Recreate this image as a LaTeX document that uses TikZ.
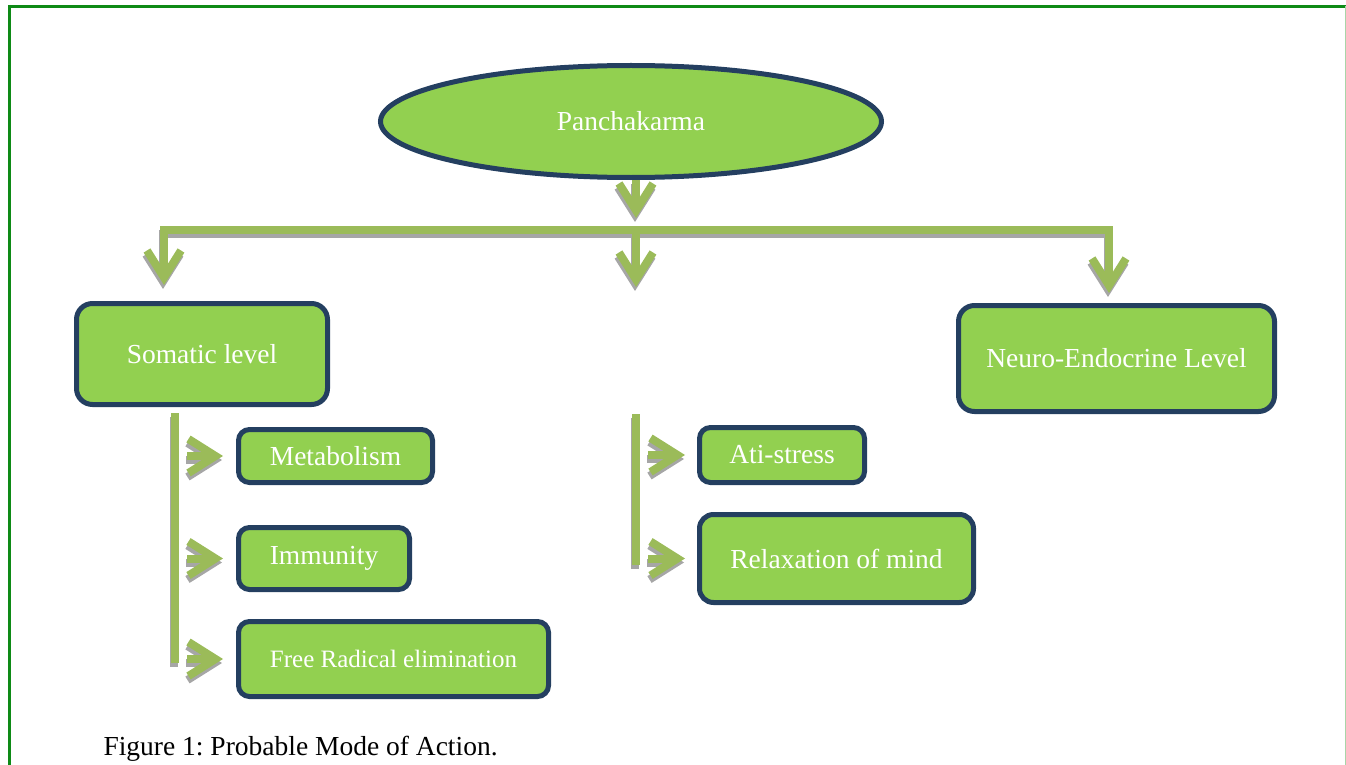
\documentclass[tikz,border=0pt]{standalone}
\usepackage{fontspec}
\setmainfont{Liberation Serif}
\usetikzlibrary{arrows.meta,shapes.geometric,positioning}

\definecolor{boxgreen}{HTML}{92D050}
\definecolor{boxline}{HTML}{243F60}
\definecolor{flowgreen}{HTML}{9BBB59}
\definecolor{flowshade}{HTML}{A6A6A6}
\definecolor{framegreen}{HTML}{0E8A16}
\definecolor{framelight}{HTML}{A8D5A8}

\tikzset{
  level/.style={
    draw=boxline,
    fill=boxgreen,
    line width=5pt,
    rounded corners=16pt,
    text=white,
    inner sep=0pt,
    font=\fontsize{27.5}{30}\selectfont,
  },
  item/.style={level, rounded corners=11pt},
  chevron/.tip={Straight Barb[length=27pt,width=34pt]},
  flow/.style={draw=flowgreen, line width=8pt},
  flowshadow/.style={draw=flowshade, line width=8pt, transform canvas={xshift=-1pt,yshift=-4pt}},
}

% connector with its grey shadow
\newcommand{\flowline}[2][]{%
  \draw[flowshadow,#1] #2;
  \draw[flow,#1] #2;
}

\begin{document}
\frenchspacing
\begin{tikzpicture}[x=1pt,y=-1pt]

    \useasboundingbox (0,0) rectangle (1346,765);

    % frame
    \draw[framegreen, line width=3pt] (8,6.5) -- (1346,6.5);
    \draw[framegreen, line width=3pt] (9.5,5) -- (9.5,765);
    \draw[framelight, line width=1pt] (1345.5,6) -- (1345.5,765);

    % boxes
    \node[level, ellipse, rounded corners=0pt, minimum width=501pt, minimum height=112pt] (panch) at (631,121.5) {Panchakarma};
    \node[level, minimum width=251pt, minimum height=101pt] (somatic) at (202,354) {Somatic level};
    \node[level, minimum width=316pt, minimum height=106pt] (neuro) at (1116.5,358.5) {Neuro-Endocrine Level};

    \node[item, minimum width=194pt, minimum height=53pt] (metab) at (335.5,456) {Metabolism};
    \node[item, minimum width=171pt, minimum height=62pt] (immun) at (324,558.5) {Immunity};
    \node[item, minimum width=310pt, minimum height=75pt, font=\fontsize{25}{28}\selectfont] (radical) at (393.5,659) {Free Radical elimination};

    \node[item, minimum width=165pt, minimum height=55pt] (atistress) at (782,455) {Ati-stress};
    \node[item, minimum width=274pt, minimum height=88pt, rounded corners=14pt] (relax) at (836.5,558.5) {Relaxation of mind};

    \node[anchor=base west, font=\fontsize{27.5}{30}\selectfont] (caption) at (100,755) {Figure 1: Probable Mode of Action.};

    % connectors
    \coordinate (hub) at (636,230);
    \coordinate (barL) at (164,230);
    \coordinate (barR) at (1109,230);
    \coordinate (midtip) at (636,287);
    \coordinate (railLtop) at (175,413);
    \coordinate (railLbot) at (175,663);
    \coordinate (railMtop) at (636,414);
    \coordinate (railMbot) at (636,565);

    \flowline[-chevron, shorten >=12pt]{(panch.south -| hub) -- (hub)}
    \flowline[chevron-chevron, shorten <=16pt, shorten >=10pt]{(barL |- somatic.north) -- (barL) -- (barR) -- (barR |- neuro.north)}
    \flowline[-chevron]{(hub) -- (midtip)}

    \flowline{(railLtop) -- (railLbot)}
    \flowline[-chevron, shorten >=13pt]{([xshift=-49pt]metab.west) -- (metab.west)}
    \flowline[-chevron, shorten >=13pt]{([xshift=-49pt]immun.west) -- (immun.west)}
    \flowline[-chevron, shorten >=13pt]{([xshift=-49pt]radical.west) -- (radical.west)}

    \flowline{(railMtop) -- (railMbot)}
    \flowline[-chevron, shorten >=12pt]{([xshift=-49pt]atistress.west) -- (atistress.west)}
    \flowline[-chevron, shorten >=12pt]{([xshift=-49pt]relax.west) -- (relax.west)}

\end{tikzpicture}
\end{document}
